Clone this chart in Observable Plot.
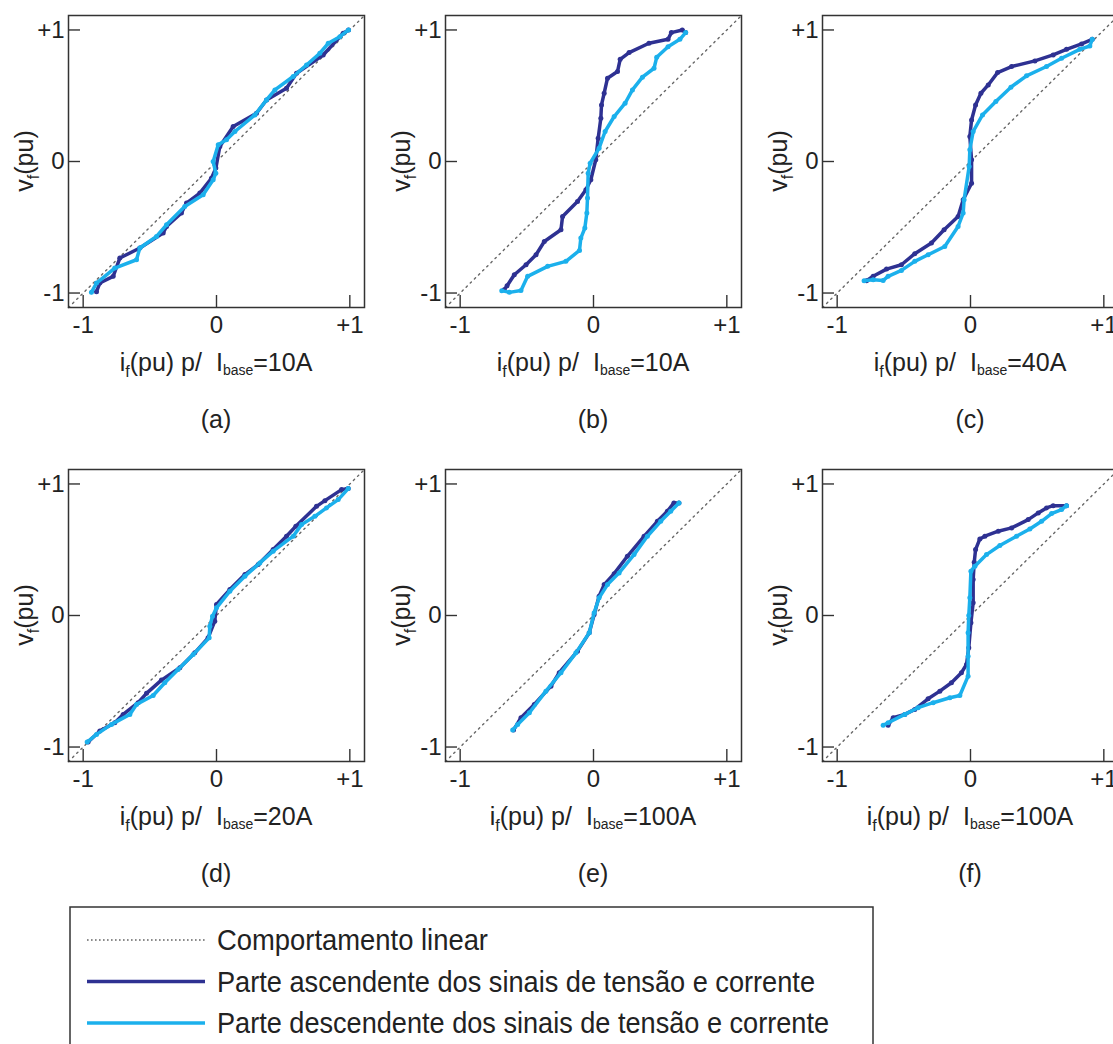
<!DOCTYPE html>
<html>
<head>
<meta charset="utf-8">
<script src="https://cdn.jsdelivr.net/npm/d3@7"></script>
<script src="https://cdn.jsdelivr.net/npm/@observablehq/plot@0.6"></script>
<style>
html, body { margin: 0; padding: 0; background: #fff; overflow: hidden; }
#root { position: relative; width: 1113px; height: 1044px; overflow: hidden; background: #fff; }
#root svg { position: absolute; max-width: none; }
</style>
</head>
<body>
<div id="root"></div>
<script>
// ---------- data ----------
const axisDomain = [-1.11, 1.11];
const tickValues = [-1, 0, 1];
const tickLabels = ["-1", "0", "+1"];
const panelLetters = ["(a)", "(b)", "(c)", "(d)", "(e)", "(f)"];
const baseCurrents = ["10A", "10A", "40A", "20A", "100A", "100A"];
const legendLabels = [
  "Comportamento linear",
  "Parte ascendente dos sinais de tensão e corrente",
  "Parte descendente dos sinais de tensão e corrente"
];

// (a)
const ascA = [[-0.9,-0.99],[-0.875,-0.924],[-0.775,-0.873],[-0.725,-0.734],[-0.575,-0.658],[-0.4,-0.544],[-0.375,-0.494],[-0.263,-0.392],[-0.225,-0.316],[-0.125,-0.24],[-0.038,-0.127],[-0.005,-0.05],[0.025,0.114],[0.125,0.266],[0.3,0.367],[0.375,0.468],[0.525,0.557],[0.6,0.671],[0.8,0.81],[0.95,0.975],[0.99,1.0]];
const descA = [[0.99,1.0],[0.925,0.949],[0.838,0.899],[0.775,0.823],[0.675,0.734],[0.575,0.646],[0.438,0.544],[0.375,0.468],[0.288,0.354],[0.138,0.228],[0.075,0.165],[0.013,0.127],[-0.025,0],[-0.005,-0.089],[-0.025,-0.139],[-0.1,-0.253],[-0.238,-0.342],[-0.375,-0.481],[-0.45,-0.57],[-0.575,-0.658],[-0.6,-0.747],[-0.763,-0.81],[-0.9,-0.924],[-0.938,-0.995]];
// (b)
const ascB = [[-0.67,-0.975],[-0.648,-0.944],[-0.594,-0.861],[-0.506,-0.785],[-0.431,-0.709],[-0.369,-0.608],[-0.244,-0.519],[-0.232,-0.418],[-0.12,-0.304],[-0.057,-0.215],[-0.02,-0.139],[0.017,0.013],[0.035,0.177],[0.055,0.329],[0.06,0.43],[0.08,0.519],[0.105,0.633],[0.18,0.684],[0.2,0.777],[0.267,0.828],[0.416,0.899],[0.559,0.929],[0.584,0.98],[0.666,1.0],[0.691,0.98]];
const descB = [[0.691,0.98],[0.648,0.929],[0.559,0.873],[0.474,0.792],[0.454,0.709],[0.367,0.641],[0.292,0.544],[0.237,0.443],[0.155,0.342],[0.087,0.228],[0.042,0.101],[-0.025,-0.013],[-0.04,-0.089],[-0.045,-0.278],[-0.05,-0.392],[-0.065,-0.506],[-0.095,-0.582],[-0.105,-0.676],[-0.207,-0.759],[-0.344,-0.797],[-0.494,-0.873],[-0.544,-0.98],[-0.631,-0.995],[-0.688,-0.982]];
// (c)
const ascC = [[-0.78,-0.906],[-0.73,-0.873],[-0.63,-0.818],[-0.518,-0.785],[-0.418,-0.701],[-0.293,-0.62],[-0.198,-0.519],[-0.093,-0.418],[-0.055,-0.291],[0.008,-0.165],[0.008,0.013],[-0.005,0.19],[0.008,0.316],[0.038,0.43],[0.078,0.519],[0.133,0.582],[0.203,0.676],[0.308,0.722],[0.483,0.765],[0.62,0.81],[0.72,0.853],[0.833,0.894],[0.913,0.929]];
const descC = [[0.913,0.929],[0.895,0.878],[0.82,0.853],[0.683,0.785],[0.57,0.722],[0.42,0.651],[0.303,0.565],[0.19,0.456],[0.09,0.354],[0.02,0.228],[-0.005,0.089],[-0.01,-0.038],[-0.048,-0.291],[-0.055,-0.392],[-0.093,-0.494],[-0.193,-0.646],[-0.318,-0.709],[-0.418,-0.759],[-0.518,-0.828],[-0.618,-0.873],[-0.655,-0.904],[-0.73,-0.899],[-0.798,-0.906]];
// (d)
const ascD = [[-0.963,-0.962],[-0.875,-0.878],[-0.763,-0.815],[-0.7,-0.752],[-0.588,-0.663],[-0.525,-0.592],[-0.413,-0.491],[-0.275,-0.397],[-0.163,-0.284],[-0.063,-0.17],[-0.013,-0.043],[0,0.084],[0.1,0.197],[0.213,0.311],[0.313,0.387],[0.425,0.501],[0.525,0.603],[0.595,0.678],[0.75,0.83],[0.813,0.873],[0.938,0.957],[0.988,0.965]];
const descD = [[0.988,0.965],[0.913,0.881],[0.825,0.818],[0.738,0.754],[0.638,0.691],[0.575,0.603],[0.425,0.489],[0.325,0.4],[0.213,0.299],[0.1,0.185],[0,0.058],[-0.03,-0.005],[-0.05,-0.081],[-0.055,-0.17],[-0.175,-0.296],[-0.288,-0.41],[-0.388,-0.511],[-0.475,-0.608],[-0.6,-0.676],[-0.65,-0.752],[-0.788,-0.828],[-0.9,-0.904],[-0.97,-0.962]];
// (e)
const ascE = [[-0.6,-0.871],[-0.544,-0.777],[-0.444,-0.676],[-0.319,-0.537],[-0.257,-0.435],[-0.12,-0.271],[-0.032,-0.132],[0.005,0.008],[0.042,0.147],[0.08,0.235],[0.155,0.318],[0.254,0.45],[0.379,0.602],[0.479,0.716],[0.554,0.792],[0.603,0.856],[0.641,0.856]];
const descE = [[0.641,0.856],[0.579,0.792],[0.504,0.716],[0.404,0.602],[0.304,0.463],[0.192,0.324],[0.105,0.235],[0.042,0.134],[0.005,0.02],[-0.032,-0.132],[-0.132,-0.284],[-0.244,-0.435],[-0.357,-0.575],[-0.481,-0.739],[-0.569,-0.828],[-0.606,-0.871]];
// (f)
const ascF = [[-0.618,-0.835],[-0.58,-0.777],[-0.493,-0.752],[-0.418,-0.714],[-0.318,-0.633],[-0.23,-0.575],[-0.143,-0.511],[-0.068,-0.435],[-0.03,-0.372],[-0.013,-0.246],[0.003,-0.056],[0.02,0.096],[0.02,0.273],[0.028,0.405],[0.038,0.501],[0.07,0.582],[0.108,0.603],[0.208,0.641],[0.308,0.666],[0.433,0.729],[0.508,0.78],[0.57,0.818],[0.62,0.835],[0.72,0.835]];
const descF = [[0.72,0.835],[0.683,0.805],[0.608,0.775],[0.533,0.716],[0.445,0.658],[0.345,0.603],[0.22,0.532],[0.12,0.463],[0.033,0.375],[0.003,0.337],[-0.005,0.134],[-0.013,0],[-0.018,-0.132],[-0.018,-0.309],[-0.018,-0.461],[-0.08,-0.608],[-0.155,-0.625],[-0.28,-0.663],[-0.393,-0.701],[-0.493,-0.752],[-0.618,-0.815],[-0.655,-0.835]];

const ascending = [ascA, ascB, ascC, ascD, ascE, ascF];
const descending = [descA, descB, descC, descD, descE, descF];

// ---------- styles ----------
const darkBlue = "#2E3192";
const lightBlue = "#1BB0EC";
const refGray = "#666";
const inkColor = "#222";
const font = "'Liberation Sans', Arial, Helvetica, sans-serif";
const panelW = 377, panelH = 454;
const tickLen = 12;

const root = document.getElementById("root");
const toRows = a => a.map(([x, y]) => ({x, y}));
const fmtTick = d => tickLabels[tickValues.indexOf(d)];

ascending.forEach((asc, i) => {
  const col = i % 3, row = Math.floor(i / 3);
  const ascRows = toRows(asc);
  const descRows = toRows(descending[i]);
  const refRows = axisDomain.map(v => ({x: v, y: v}));
  const plot = Plot.plot({
    width: panelW, height: panelH,
    marginLeft: 68, marginRight: 13, marginTop: 15, marginBottom: 147,
    x: {domain: axisDomain},
    y: {domain: axisDomain},
    style: {fontFamily: font, fontSize: "24px", color: inkColor, background: "white", overflow: "visible"},
    marks: [
      Plot.line(refRows, {x: "x", y: "y", stroke: refGray, strokeWidth: 1.4, strokeDasharray: "1.6,4.2"}),
      Plot.line(ascRows, {x: "x", y: "y", stroke: darkBlue, strokeWidth: 3.5, strokeLinejoin: "round", strokeLinecap: "round"}),
      Plot.dot(ascRows, {x: "x", y: "y", fill: darkBlue, r: 2.5}),
      Plot.line(descRows, {x: "x", y: "y", stroke: lightBlue, strokeWidth: 3.5, strokeLinejoin: "round", strokeLinecap: "round"}),
      Plot.dot(descRows, {x: "x", y: "y", fill: lightBlue, r: 2.5}),
      // inward ticks: outward tick shifted back inside the frame
      Plot.axisX(tickValues, {tickSize: tickLen, dy: -tickLen, fill: "none", stroke: "#333", strokeWidth: 1.4, label: null}),
      Plot.axisX(tickValues, {tickSize: 0, tickPadding: 8, tickFormat: fmtTick, fontSize: 24, fill: inkColor, label: null}),
      Plot.axisY(tickValues, {tickSize: tickLen, dx: tickLen, fill: "none", stroke: "#333", strokeWidth: 1.4, label: null}),
      Plot.axisY(tickValues, {tickSize: 0, tickPadding: 4, tickFormat: fmtTick, fontSize: 24, fill: inkColor, label: null}),
      Plot.frame({stroke: "#333", strokeWidth: 1.5})
    ]
  });
  plot.style.left = (col * panelW) + "px";
  plot.style.top = (row * panelH) + "px";
  root.appendChild(plot);

  const svg = d3.select(plot);
  const cx = plot.scale("x").apply(0);
  const cy = plot.scale("y").apply(0);

  // y label v_f(pu)
  const yl = svg.append("text")
    .attr("transform", `translate(33,${cy}) rotate(-90)`)
    .attr("text-anchor", "middle")
    .attr("font-family", font).attr("font-size", 25).attr("fill", inkColor);
  yl.append("tspan").text("v");
  yl.append("tspan").attr("dy", 6).attr("font-size", 16).text("f");
  yl.append("tspan").attr("dy", -6).text("(pu)");

  // x label i_f(pu) p/ I_base=..A
  const xl = svg.append("text")
    .attr("x", cx).attr("y", 371)
    .attr("text-anchor", "middle")
    .attr("font-family", font).attr("font-size", 25).attr("fill", inkColor);
  xl.append("tspan").text("i");
  xl.append("tspan").attr("dy", 6).attr("font-size", 16).text("f");
  xl.append("tspan").attr("dy", -6).text("(pu) p/");
  xl.append("tspan").attr("dx", 14).text("I");
  xl.append("tspan").attr("dy", 4).attr("font-size", 14).text("base");
  xl.append("tspan").attr("dy", -4).text("=" + baseCurrents[i]);

  // caption
  svg.append("text")
    .attr("x", cx).attr("y", 428)
    .attr("text-anchor", "middle")
    .attr("font-family", font).attr("font-size", 25).attr("fill", inkColor)
    .text(panelLetters[i]);
});

// ---------- legend ----------
const legend = d3.select(root).append("svg")
  .attr("width", 1113).attr("height", 140)
  .style("left", "0px").style("top", "904px");
legend.append("rect")
  .attr("x", 70).attr("y", 3).attr("width", 803).attr("height", 200)
  .attr("fill", "white").attr("stroke", "#333").attr("stroke-width", 1.5);
const legendStyles = [
  {stroke: refGray, width: 1.3, dash: "1.6,2.4"},
  {stroke: darkBlue, width: 3.4, dash: null},
  {stroke: lightBlue, width: 3.4, dash: null}
];
const legendTextWidths = [271, 598, 612];
legendLabels.forEach((label, k) => {
  const yc = 36 + k * 41.5;
  const st = legendStyles[k];
  const ln = legend.append("line")
    .attr("x1", 87).attr("x2", 205).attr("y1", yc).attr("y2", yc)
    .attr("stroke", st.stroke).attr("stroke-width", st.width);
  if (st.dash) ln.attr("stroke-dasharray", st.dash);
  legend.append("text")
    .attr("x", 217).attr("y", yc + 10)
    .attr("font-family", font).attr("font-size", 29).attr("fill", inkColor)
    .attr("textLength", legendTextWidths[k]).attr("lengthAdjust", "spacingAndGlyphs")
    .text(label);
});
</script>
</body>
</html>
